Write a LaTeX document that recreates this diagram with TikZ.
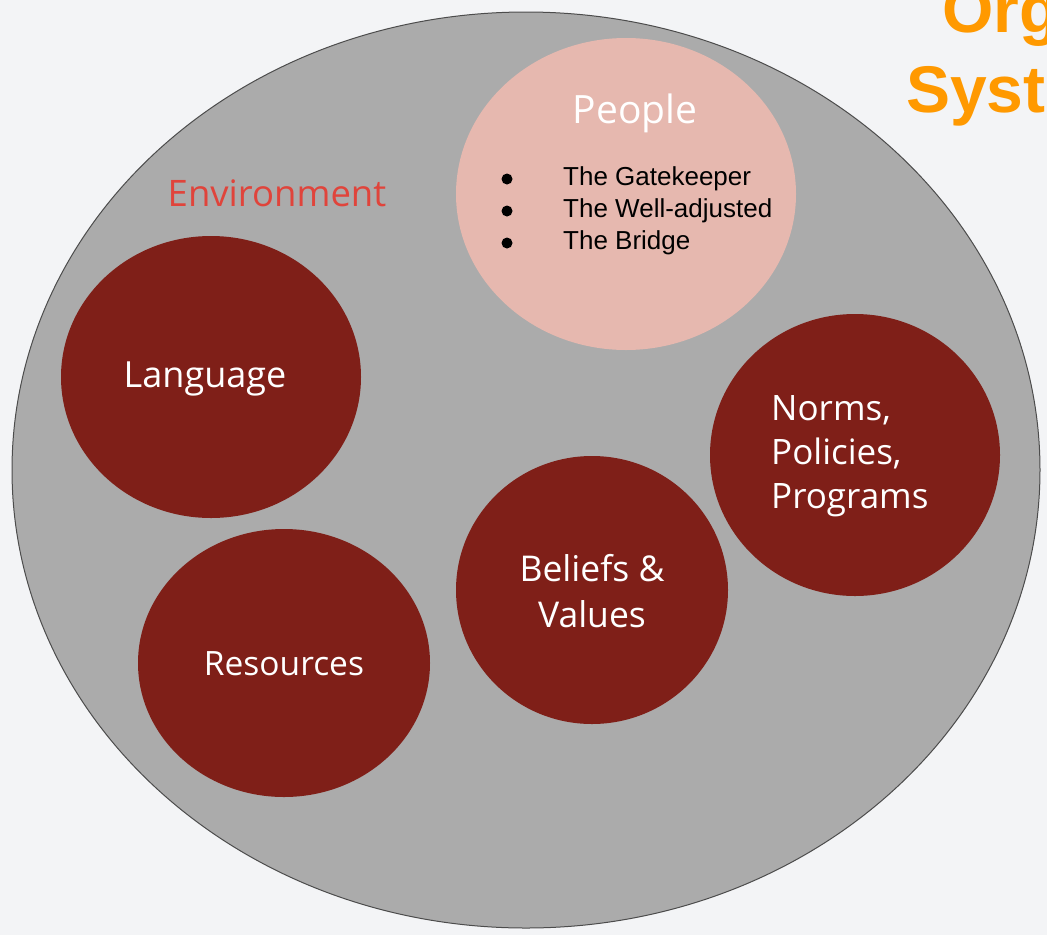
\documentclass[tikz,border=0pt]{standalone}
\usepackage{fontspec}
\setmainfont{Open Sans}
\newfontfamily\arialfont{Liberation Sans}
\definecolor{bgc}{HTML}{F3F4F6}
\definecolor{envgray}{HTML}{ABABAB}
\definecolor{darkred}{HTML}{7F1F18}
\definecolor{pinkc}{HTML}{E6B8AF}
\definecolor{envred}{HTML}{E0443B}
\definecolor{orangec}{HTML}{FF9900}
\tikzset{
  x=1pt, y=-1pt,
  blob/.style={fill=darkred, draw=none},
  whitelabel/.style={text=white, font=\fontsize{35}{44}\selectfont, align=center, inner sep=0pt},
  bulletline/.style={font=\arialfont\fontsize{26}{32}\selectfont, anchor=west, inner sep=0pt},
  bulletdot/.style={circle, fill=black, inner sep=0pt, minimum size=11pt},
  titletext/.style={font=\arialfont\bfseries\fontsize{66}{80}\selectfont, text=orangec, anchor=base west, inner sep=0pt},
}
\begin{document}
\begin{tikzpicture}
\useasboundingbox (0,0) rectangle (1047,935);
\fill[bgc] (0,0) rectangle (1047,935);
% orange title, clipped at the picture's edge
\begin{scope}
\clip (0,0) rectangle (1047,935);
\node[titletext] (org) at (942,32) {Org};
\node[titletext] (syst) at (906,112) {Syst};
\end{scope}
% environment
\path[fill=envgray, draw=black!70, line width=1pt] (526,470) ellipse [x radius=514, y radius=458];
\coordinate (envc) at (526,470);
\node[text=envred, font=\fontsize{36.5}{40}\selectfont, inner sep=0pt] (env) at (277,193) {Environment};
% people
\path[fill=pinkc] (626,194) ellipse [x radius=170, y radius=156];
\node[text=white, font=\fontsize{39}{44}\selectfont, inner sep=0pt] (people) at (635,113) {People};
\node[bulletdot] (b1) at (507,179) {};
\node[bulletdot] (b2) at (507,211) {};
\node[bulletdot] (b3) at (507,243) {};
\node[bulletline] (t1) at (563,179) {The Gatekeeper};
\node[bulletline] (t2) at (563,211) {The Well-adjusted};
\node[bulletline] (t3) at (563,243) {The Bridge};
% language
\path[blob] (211,377) ellipse [x radius=150, y radius=141];
\node[whitelabel, font=\fontsize{36}{44}\selectfont] (lang) at (205,379) {Language};
% resources
\path[blob] (284,663) ellipse [x radius=146, y radius=134];
\node[whitelabel, font=\fontsize{33.5}{40}\selectfont] (res) at (284,664) {Resources};
% beliefs
\path[blob] (592,590) ellipse [x radius=136, y radius=134];
\node[whitelabel, font=\fontsize{35.5}{46}\selectfont] (bel) at (592,591) {Beliefs \&\\Values};
% norms
\path[blob] (855,455) ellipse [x radius=145, y radius=141];
\node[whitelabel, align=left, anchor=west] (norms) at (771,456) {Norms,\\Policies,\\Programs};
\end{tikzpicture}
\end{document}
